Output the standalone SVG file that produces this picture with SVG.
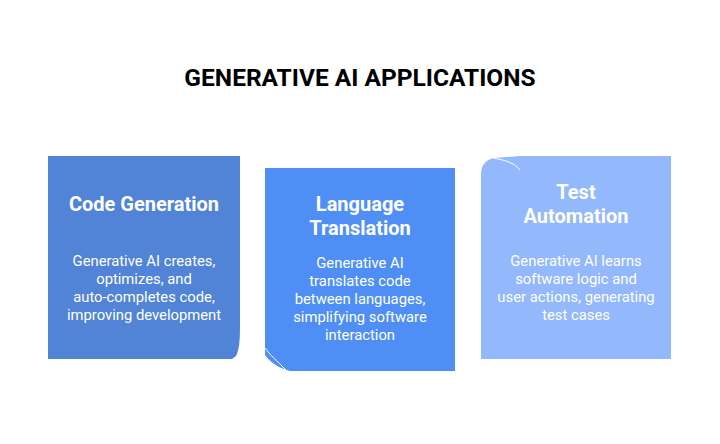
<svg xmlns="http://www.w3.org/2000/svg" width="720" height="444" viewBox="0 0 720 444">
<style>
text{font-family:Roboto,"Liberation Sans",sans-serif;fill:#fff;text-anchor:middle}
.h{font-size:20px;font-weight:bold}
.b{font-size:14.8px}
.t{font-size:24.5px;font-weight:bold;fill:#000}
.c{fill:none;stroke:#fff;stroke-width:1}
</style>
<rect width="720" height="444" fill="#fff"/>
<text class="t" x="360" y="86">GENERATIVE AI APPLICATIONS</text>
<g id="code">
<path d="M48,156 H240 V325 C240,342 239,350 236,356 L232,359 H48 Z" fill="#5183D6"/>
<text class="h" x="144" y="211">Code Generation</text>
<text class="b" x="144" y="266">Generative AI creates,</text>
<text class="b" x="144" y="284">optimizes, and</text>
<text class="b" x="144" y="302">auto-completes code,</text>
<text class="b" x="144" y="320">improving development</text>
</g>
<g id="lang">
<path d="M265,168 H455 V371 H290 C278,368 270,362 265,355 Z" fill="#4F8FF5"/>
<path class="c" d="M265,348 C270,355 276,360 286,370"/>
<text class="h" x="360" y="211">Language</text>
<text class="h" x="360" y="235">Translation</text>
<text class="b" x="360" y="268">Generative AI</text>
<text class="b" x="360" y="286">translates code</text>
<text class="b" x="360" y="304">between languages,</text>
<text class="b" x="360" y="322">simplifying software</text>
<text class="b" x="360" y="340">interaction</text>
</g>
<g id="test">
<path d="M481,175 C481,165 485,161 493,158 L520,156 H671 V359 H481 Z" fill="#93B8FC"/>
<path class="c" d="M493,158 C505,160 515,163 520,170"/>
<text class="h" x="576" y="199">Test</text>
<text class="h" x="576" y="223">Automation</text>
<text class="b" x="576" y="266">Generative AI learns</text>
<text class="b" x="576" y="284">software logic and</text>
<text class="b" x="576" y="302">user actions, generating</text>
<text class="b" x="576" y="320">test cases</text>
</g>
<g id="connectors"/>
</svg>
